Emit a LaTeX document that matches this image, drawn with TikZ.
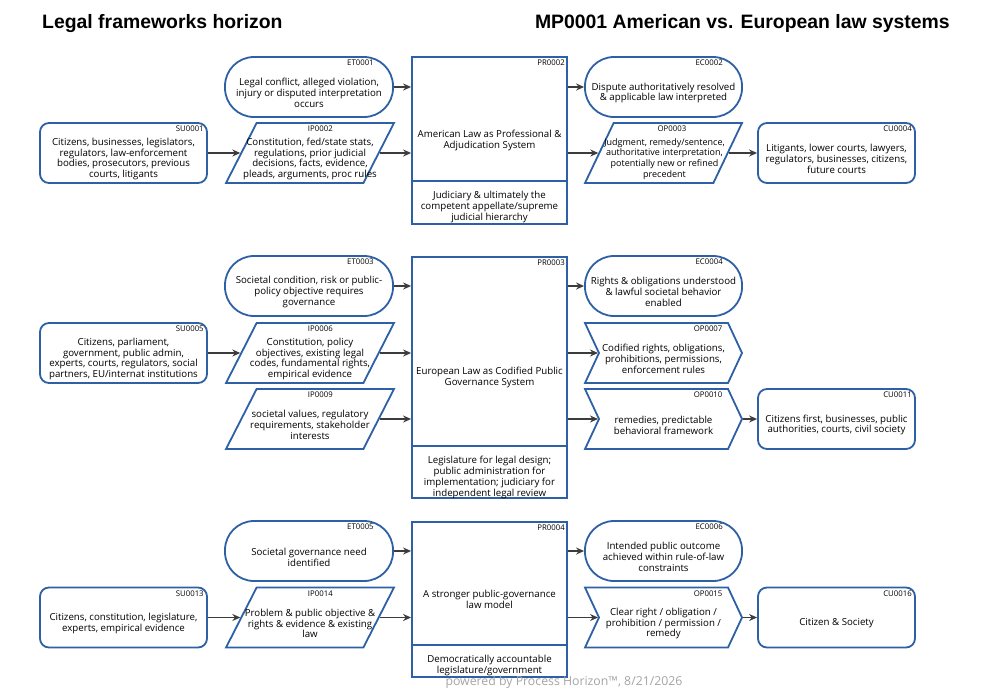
\documentclass[tikz,border=0pt]{standalone}
\usepackage{fontspec}
\setmainfont{Open Sans}
\newfontfamily\titlefont{Liberation Sans}
\usetikzlibrary{shapes.geometric,shapes.symbols,arrows.meta}

\definecolor{hzblue}{RGB}{46,96,166}
\definecolor{flowgray}{RGB}{60,60,60}
\definecolor{footgray}{RGB}{165,165,165}

\tikzset{
  box/.style={draw=hzblue, line width=1.8pt, fill=white},
  idtag/.style={font=\fontsize{7.8}{7.8}\selectfont, inner sep=0pt, anchor=north east, yshift=-4pt},
  stadium/.style={box, rectangle, rounded corners=29pt, minimum width=168pt, minimum height=60pt,
    label={[idtag, xshift=-20pt]north east:#1}},
  party/.style={box, rectangle, rounded corners=9pt, minimum width=167pt, minimum height=60pt,
    label={[idtag, xshift=-4pt]north east:#1}},
  docin/.style={box, trapezium, trapezium left angle=74, trapezium right angle=106,
    trapezium stretches=true, minimum width=168pt, minimum height=60pt,
    label={[idtag, xshift=-8pt]north east:#1}},
  chevron/.style={box, signal, signal from=west, signal to=east, signal pointer angle=130,
    minimum width=157pt, minimum height=60pt,
    label={[idtag, xshift=-6pt]north east:#1}},
  procbox/.style={box, rectangle, minimum width=155pt, align=center,
    font=\fontsize{9.7}{10.8}\selectfont, label={[idtag, xshift=-3pt]north east:#1}},
  procsub/.style={box, rectangle, minimum width=155pt, anchor=south},
  txt/.style={font=\fontsize{9.7}{10.8}\selectfont, align=center, inner sep=0pt},
  flow/.style={->, draw=flowgray, line width=1.4pt},
  titletxt/.style={font=\titlefont\bfseries\fontsize{19.4}{22}\selectfont, inner sep=0pt},
}

\begin{document}
\begin{tikzpicture}[x=1pt, y=-1pt, >={Stealth[length=8pt,width=7pt]}]
\path[use as bounding box, fill=white] (0,0) rectangle (995,691);

% titres
\node[titletxt, anchor=base west] (title) at (42,28.5) {Legal frameworks horizon};
\node[titletxt, anchor=base east] (model) at (950,28.5) {MP0001 American vs. European law systems};

% American law
\node[stadium=ET0001] (et1) at (309,87) {};
\node[txt] (et1t) at ([yshift=-6pt]et1.center) {Legal conflict, alleged violation,\\injury or disputed interpretation\\occurs};
\node[party=SU0001] (su1) at (123.5,153) {};
\node[txt] (su1t) at ([yshift=-6pt]su1.center) {Citizens, businesses, legislators,\\regulators, law-enforcement\\bodies, prosecutors, previous\\courts, litigants};
\node[docin=IP0002] (ip2) at (310,153) {};
\node[txt] (ip2t) at ([yshift=-6pt]ip2.center) {Constitution, fed/state stats,\\regulations, prior judicial\\decisions, facts, evidence,\\pleads, arguments, proc rules};
\node[procbox=PR0002, minimum height=167pt] (pr2) at (489.5,140.5) {American Law as Professional \&\\Adjudication System};
\node[procsub, minimum height=43pt] (pr2s) at (pr2.south) {};
\node[txt, anchor=north] (pr2st) at ([yshift=-11pt]pr2s.north) {Judiciary \& ultimately the\\competent appellate/supreme\\judicial hierarchy};
\node[stadium=EC0002, minimum width=157pt] (ec2) at (663.5,87) {};
\node[txt] (ec2t) at ([yshift=-6pt]ec2.center) {Dispute authoritatively resolved\\\& applicable law interpreted};
\node[docin=OP0003, minimum width=157pt] (op3) at (663.5,153) {};
\node[txt, font=\fontsize{9}{10.8}\selectfont] (op3t) at ([shift={(1pt,-6pt)}]op3.center) {Judgment, remedy/sentence,\\authoritative interpretation,\\potentially new or refined\\precedent};
\node[party=CU0004, minimum width=157pt] (cu4) at (836.5,153) {};
\node[txt] (cu4t) at ([yshift=-6pt]cu4.center) {Litigants, lower courts, lawyers,\\regulators, businesses, citizens,\\future courts};

\draw[flow] (su1.east) -- (su1.east -| ip2.west);
\draw[flow] (et1.east) -- (et1.east -| pr2.west);
\draw[flow] (ip2.east) -- (ip2.east -| pr2.west);
\draw[flow] (ec2.west -| pr2.east) -- (ec2.west);
\draw[flow] (op3.west -| pr2.east) -- (op3.west);
\draw[flow] (op3.east) -- (op3.east -| cu4.west);

% European law
\node[stadium=ET0003] (et3) at (309,286) {};
\node[txt] (et3t) at ([yshift=-6pt]et3.center) {Societal condition, risk or public-\\policy objective requires\\governance};
\node[party=SU0005] (su5) at (123.5,353) {};
\node[txt] (su5t) at ([yshift=-6pt]su5.center) {Citizens, parliament,\\government, public admin,\\experts, courts, regulators, social\\partners, EU/internat institutions};
\node[docin=IP0006] (ip6) at (310,353) {};
\node[txt] (ip6t) at ([yshift=-6pt]ip6.center) {Constitution, policy\\objectives, existing legal\\codes, fundamental rights,\\empirical evidence};
\node[docin=IP0009] (ip9) at (310,419) {};
\node[txt] (ip9t) at ([yshift=-6pt]ip9.center) {societal values, regulatory\\requirements, stakeholder\\interests};
\node[procbox=PR0003, minimum height=241pt] (pr3) at (489.5,377.5) {European Law as Codified Public\\Governance System};
\node[procsub, minimum height=52pt] (pr3s) at (pr3.south) {};
\node[txt, anchor=north] (pr3st) at ([yshift=-11pt]pr3s.north) {Legislature for legal design;\\public administration for\\implementation; judiciary for\\independent legal review};
\node[stadium=EC0004, minimum width=157pt] (ec4) at (663.5,286) {};
\node[txt] (ec4t) at ([yshift=-6pt]ec4.center) {Rights \& obligations understood\\\& lawful societal behavior\\enabled};
\node[chevron=OP0007] (op7) at (663.5,353) {};
\node[txt] (op7t) at ([yshift=-6pt]op7.center) {Codified rights, obligations,\\prohibitions, permissions,\\enforcement rules};
\node[chevron=OP0010] (op10) at (663.5,419) {};
\node[txt] (op10t) at ([yshift=-6pt]op10.center) {remedies, predictable\\behavioral framework};
\node[party=CU0011, minimum width=157pt] (cu11) at (836.5,419) {};
\node[txt] (cu11t) at ([yshift=-6pt]cu11.center) {Citizens first, businesses, public\\authorities, courts, civil society};

\draw[flow] (su5.east) -- (su5.east -| ip6.west);
\draw[flow] (et3.east) -- (et3.east -| pr3.west);
\draw[flow] (ip6.east) -- (ip6.east -| pr3.west);
\draw[flow] (ip9.east) -- (ip9.east -| pr3.west);
\draw[flow] (ec4.west -| pr3.east) -- (ec4.west);
\draw[flow] (op7.west -| pr3.east) -- (op7.west);
\draw[flow] (op10.west -| pr3.east) -- (op10.west);
\draw[flow] (op10.east) -- (op10.east -| cu11.west);

% stronger model
\node[stadium=ET0005] (et5) at (309,551) {};
\node[txt] (et5t) at ([yshift=-6pt]et5.center) {Societal governance need\\identified};
\node[party=SU0013] (su13) at (123.5,617.5) {};
\node[txt] (su13t) at ([yshift=-6pt]su13.center) {Citizens, constitution, legislature,\\experts, empirical evidence};
\node[docin=IP0014] (ip14) at (310,617.5) {};
\node[txt] (ip14t) at ([yshift=-6pt]ip14.center) {Problem \& public objective \&\\rights \& evidence \& existing\\law};
\node[procbox=PR0004, minimum height=155pt] (pr4) at (489.5,599.5) {A stronger public-governance\\law model};
\node[procsub, minimum height=32pt] (pr4s) at (pr4.south) {};
\node[txt, anchor=north] (pr4st) at ([yshift=-11pt]pr4s.north) {Democratically accountable\\legislature/government};
\node[stadium=EC0006, minimum width=157pt] (ec6) at (663.5,551) {};
\node[txt] (ec6t) at ([yshift=-6pt]ec6.center) {Intended public outcome\\achieved within rule-of-law\\constraints};
\node[chevron=OP0015] (op15) at (663.5,617.5) {};
\node[txt] (op15t) at ([yshift=-6pt]op15.center) {Clear right / obligation /\\prohibition / permission /\\remedy};
\node[party=CU0016, minimum width=157pt] (cu16) at (836.5,617.5) {};
\node[txt] (cu16t) at ([yshift=-6pt]cu16.center) {Citizen \& Society};

\draw[flow] (su13.east) -- (su13.east -| ip14.west);
\draw[flow] (et5.east) -- (et5.east -| pr4.west);
\draw[flow] (ip14.east) -- (ip14.east -| pr4.west);
\draw[flow] (ec6.west -| pr4.east) -- (ec6.west);
\draw[flow] (op15.west -| pr4.east) -- (op15.west);
\draw[flow] (op15.east) -- (op15.east -| cu16.west);

% pied de page
\node[font=\fontsize{12.3}{14}\selectfont, text=footgray, anchor=base, inner sep=0pt] (foot) at (564,685) {powered by Process Horizon\texttrademark, 8/21/2026};
\end{tikzpicture}
\end{document}
